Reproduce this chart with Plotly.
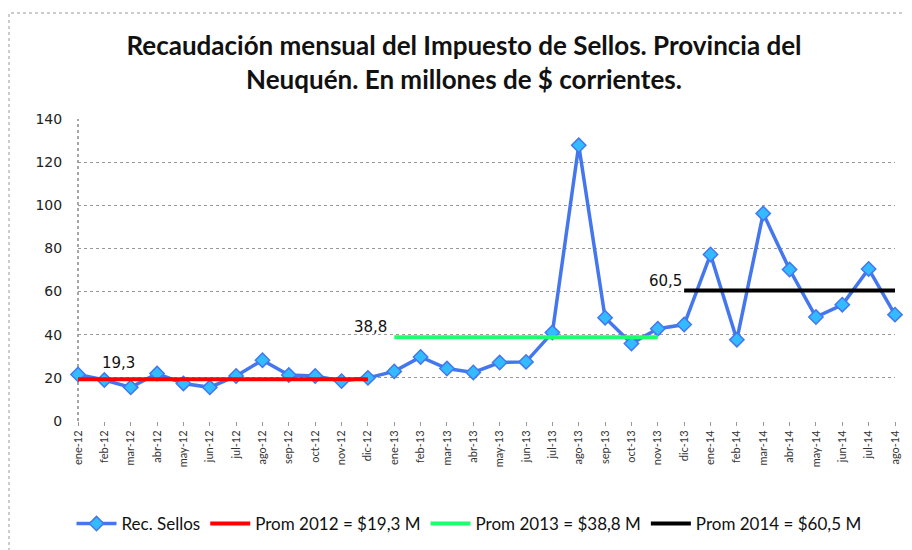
import plotly.graph_objects as go

months = ["ene-12", "feb-12", "mar-12", "abr-12", "may-12", "jun-12", "jul-12", "ago-12",
          "sep-12", "oct-12", "nov-12", "dic-12",
          "ene-13", "feb-13", "mar-13", "abr-13", "may-13", "jun-13", "jul-13", "ago-13",
          "sep-13", "oct-13", "nov-13", "dic-13",
          "ene-14", "feb-14", "mar-14", "abr-14", "may-14", "jun-14", "jul-14", "ago-14"]

rec_sellos = [21.6, 19.0, 15.6, 22.0, 17.4, 15.6, 20.9, 28.2, 21.3, 20.9, 18.5, 20.0,
              23.0, 29.7, 24.3, 22.5, 27.1, 27.4, 41.0, 127.8, 47.9, 35.9, 42.8, 44.7,
              77.2, 37.7, 96.2, 70.2, 48.2, 53.9, 70.5, 49.3]

prom_2012 = 19.3
prom_2013 = 38.8
prom_2014 = 60.5
months_2012 = months[0:12]
months_2013 = months[12:23]
months_2014 = months[23:32]

y_ticks = [0, 20, 40, 60, 80, 100, 120, 140]

# page geometry (the html body adds an 8px margin, so the figure is offset)
OFF = 8
PAGE_W, PAGE_H = 912, 550
W, H = PAGE_W - OFF, PAGE_H - OFF
PL, PR, PT, PB = 78, 895, 119, 421          # plot area in page pixels
L, R, T, B = PL - OFF, W - (PR - OFF), PT - OFF, H - (PB - OFF)
pw, ph = PR - PL, PB - PT

def px_x(x):
    return (x - PL) / pw

def px_y(y):
    return (PB - y) / ph

fig = go.Figure()

fig.add_trace(go.Scatter(
    x=months, y=rec_sellos, name="Rec. Sellos", mode="lines+markers",
    line=dict(color="#4477EE", width=3.5),
    marker=dict(symbol="diamond", size=11, color="#33BBFF",
                line=dict(color="#4477EE", width=1.5)),
    cliponaxis=False,
))
fig.add_trace(go.Scatter(
    x=months_2012, y=[prom_2012] * len(months_2012), name="Prom 2012 = $19,3 M",
    mode="lines", line=dict(color="#FF0000", width=4), cliponaxis=False,
))
fig.add_trace(go.Scatter(
    x=months_2013, y=[prom_2013] * len(months_2013), name="Prom 2013 = $38,8 M",
    mode="lines", line=dict(color="#1EFF6E", width=4), cliponaxis=False,
))
fig.add_trace(go.Scatter(
    x=months_2014, y=[prom_2014] * len(months_2014), name="Prom 2014 = $60,5 M",
    mode="lines", line=dict(color="#000000", width=4), cliponaxis=False,
))

ann_font = dict(family="DejaVu Sans", size=15, color="#111")
annotations = [
    dict(x=months_2012[1], y=prom_2012, text="19,3", showarrow=False,
         xanchor="left", yanchor="middle", xshift=-4, yshift=16, font=ann_font),
    dict(x=months_2013[0], y=prom_2013, text="38,8", showarrow=False,
         xanchor="right", yanchor="middle", xshift=-5, yshift=10, font=ann_font),
    dict(x=months_2014[0], y=prom_2014, text="60,5", showarrow=False,
         xanchor="right", yanchor="middle", xshift=0, yshift=9, font=ann_font),
]

shapes = [
    # vertical value-axis line (dotted)
    dict(type="line", xref="paper", yref="paper", x0=0, x1=0, y0=0, y1=1,
         line=dict(color="#888", width=1.5, dash="dot"), layer="below"),
    # chart border (dotted)
    dict(type="rect", xref="paper", yref="paper",
         x0=px_x(9), x1=px_x(960), y0=px_y(600), y1=px_y(13),
         line=dict(color="#999", width=1, dash="dot"), layer="below"),
]

fig.update_layout(
    width=W, height=H,
    margin=dict(l=L, r=R, t=T, b=B, autoexpand=False),
    paper_bgcolor="white", plot_bgcolor="white",
    title=dict(
        text="Recaudación mensual del Impuesto de Sellos. Provincia del<br>Neuquén. En millones de $ corrientes.",
        xref="container", x=(464 - OFF) / W, xanchor="center",
        yref="container", y=1 - 47 / H, yanchor="middle",
        font=dict(family="Lato", size=26, color="#111", weight="bold"),
    ),
    xaxis=dict(
        type="category", categoryorder="array", categoryarray=months,
        range=[0, len(months) - 1], automargin=False,
        tickangle=-90, tickfont=dict(family="Lato", size=11, color="#333"),
        ticks="outside", ticklen=4, tickcolor="#999",
        showgrid=False, showline=False, zeroline=False,
    ),
    yaxis=dict(
        range=[0, 140], tickvals=y_ticks, ticktext=[str(v) for v in y_ticks],
        automargin=False,
        tickfont=dict(family="DejaVu Sans", size=14, color="#222"),
        showgrid=True, gridcolor="#999", griddash="dot", gridwidth=1,
        zeroline=False, showline=False, ticks="outside", ticklen=12,
        tickcolor="rgba(0,0,0,0)",
    ),
    legend=dict(
        orientation="h", x=px_x(469), xanchor="center", y=px_y(524), yanchor="middle",
        font=dict(family="Lato", size=17, color="#111"),
        itemwidth=40, tracegroupgap=0,
    ),
    annotations=annotations,
    shapes=shapes,
    showlegend=True,
)

fig.write_html("out.html")
